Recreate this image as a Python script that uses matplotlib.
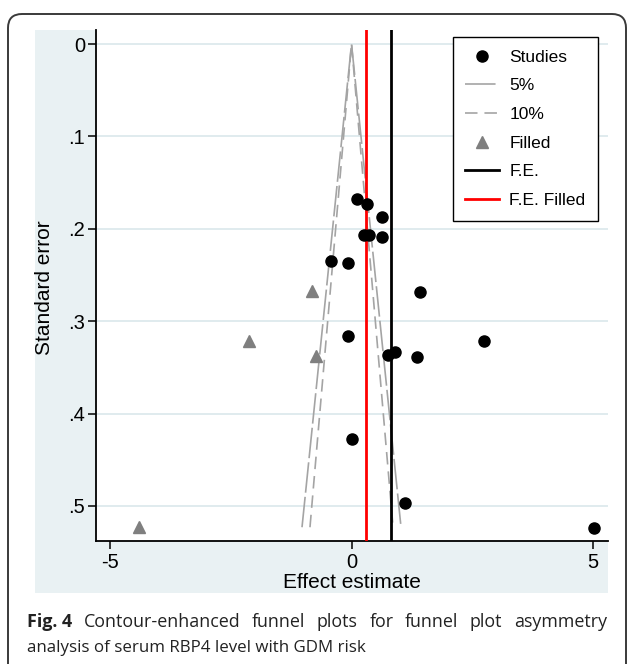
import numpy as np
import matplotlib
matplotlib.use("Agg")
import matplotlib.pyplot as plt
from matplotlib.patches import Rectangle, FancyBboxPatch
from matplotlib.lines import Line2D

plt.rcParams['font.family'] = ['Liberation Sans', 'DejaVu Sans']
plt.rcParams['lines.scale_dashes'] = False

# observed studies (effect estimate, standard error)
studies_es = [0.12, 0.33, 0.64, 0.265, 0.36, 0.64, -0.43, -0.08, 1.42,
              -0.07, 0.76, 0.90, 1.36, 2.74, 0.00, 1.10, 5.02]
studies_se = [0.168, 0.173, 0.187, 0.207, 0.207, 0.209, 0.235, 0.237, 0.268,
              0.316, 0.337, 0.333, 0.339, 0.321, 0.428, 0.497, 0.524]

# trim-and-fill imputed studies
filled_es = [-0.82, -2.12, -0.73, -4.40]
filled_se = [0.267, 0.321, 0.338, 0.523]

# pooled fixed effect estimates
fe = 0.81
fe_filled = 0.31

# contour lines
c5_es = [-1.025, 0.0, 1.025]
c10_es = [-0.86, 0.0, 0.86]
contour_se = [0.523, 0.0, 0.523]

xticks = [-5, 0, 5]
xticklabels = ['-5', '0', '5']
yticks = [0, 0.1, 0.2, 0.3, 0.4, 0.5]
yticklabels = ['0', '.1', '.2', '.3', '.4', '.5']

W, H = 630, 664
fig = plt.figure(figsize=(W / 100, H / 100), dpi=100)

# rounded frame round the figure (bottom runs off the page)
frame = FancyBboxPatch((8, -30), 618, 650 + 30, boxstyle="round,pad=0,rounding_size=14",
                       transform=None, facecolor='none', edgecolor='#3a3a3a', lw=1.4,
                       zorder=3)
fig.patches.append(frame)

# stata graph region
fig.patches.append(Rectangle((35 / W, 1 - 593 / H), (608 - 35) / W, (593 - 30) / H,
                             transform=fig.transFigure, facecolor='#e9f1f3',
                             edgecolor='none', zorder=0.5))

ax = fig.add_axes([96 / W, 1 - 541 / H, (608 - 96) / W, (541 - 30) / H])
ax.set_facecolor('white')
ax.set_zorder(2)

for y in yticks:
    ax.axhline(y, color='#dde9ed', lw=1.3, zorder=0)

ax.plot(c5_es, contour_se, color='#a4a4a4', lw=1.2, dashes=(22, 3), zorder=2)
ax.plot(c10_es, contour_se, color='#a4a4a4', lw=1.2, dashes=(9, 5), zorder=2)

ax.axvline(fe, color='black', lw=2, zorder=3)
ax.axvline(fe_filled, color='red', lw=2, zorder=3)

ax.plot(studies_es, studies_se, 'o', color='black', ms=8, zorder=4, linestyle='none')
ax.plot(filled_es, filled_se, '^', color='#7f7f7f', ms=8.5, zorder=4, linestyle='none')

ax.set_xlim(-5.29, 5.31)
ax.set_ylim(0.5379, -0.0152)

ax.set_xticks(xticks)
ax.set_xticklabels(xticklabels)
ax.set_yticks(yticks)
ax.set_yticklabels(yticklabels)
ax.tick_params(axis='both', direction='out', length=6, width=1.1, labelsize=14.5,
               colors='black', pad=3)
ax.tick_params(axis='y', pad=2)

for s in ['top', 'right']:
    ax.spines[s].set_visible(False)
for s in ['left', 'bottom']:
    ax.spines[s].set_linewidth(1.3)

fig.text(45 / W, 1 - 288 / H, 'Standard error', rotation=90, ha='center', va='center',
         fontsize=15)
fig.text(351.5 / W, 1 - 583 / H, 'Effect estimate', ha='center', va='center', fontsize=15)

handles = [
    Line2D([], [], marker='o', color='black', ms=8, linestyle='none'),
    Line2D([], [], color='#a4a4a4', lw=1.2, dashes=(22, 3)),
    Line2D([], [], color='#a4a4a4', lw=1.2, dashes=(9, 5)),
    Line2D([], [], marker='^', color='#7f7f7f', ms=8.5, linestyle='none'),
    Line2D([], [], color='black', lw=2),
    Line2D([], [], color='red', lw=2),
]
labels = ['Studies', '5%', '10%', 'Filled', 'F.E.', 'F.E. Filled']
leg = ax.legend(handles, labels, loc='upper right', bbox_to_anchor=(598 / W, 1 - 37 / H),
                bbox_transform=fig.transFigure, fontsize=12.5, frameon=True, fancybox=False,
                edgecolor='black', framealpha=1, handlelength=1.95, handletextpad=0.6,
                labelspacing=0.78, borderpad=0.72, borderaxespad=0)
leg.get_frame().set_linewidth(1.0)

# caption, first line justified word by word
line1_bold = 'Fig. 4'
line1 = 'Contour-enhanced funnel plots for funnel plot asymmetry'.split()
line2 = 'analysis of serum RBP4 level with GDM risk'
cap_font = ['Open Sans', 'DejaVu Sans']
x0, x1 = 27, 607
y1, y2 = 1 - 622 / H, 1 - 648 / H

fig.canvas.draw()
r = fig.canvas.get_renderer()
words = [fig.text(0, y1, line1_bold, fontsize=12.9, family=cap_font, weight='bold',
                  va='center', color='#222222')]
for w in line1:
    words.append(fig.text(0, y1, w, fontsize=12.9, family=cap_font, va='center',
                          color='#222222'))
widths = [t.get_window_extent(renderer=r).width for t in words]
gap = (x1 - x0 - sum(widths)) / (len(words) - 1)
x = x0
for t, w in zip(words, widths):
    t.set_x(x / W)
    x += w + gap
fig.text(x0 / W, y2, line2, fontsize=12.2, family=cap_font, va='center', color='#222222')

fig.savefig('out.png', dpi=100)
